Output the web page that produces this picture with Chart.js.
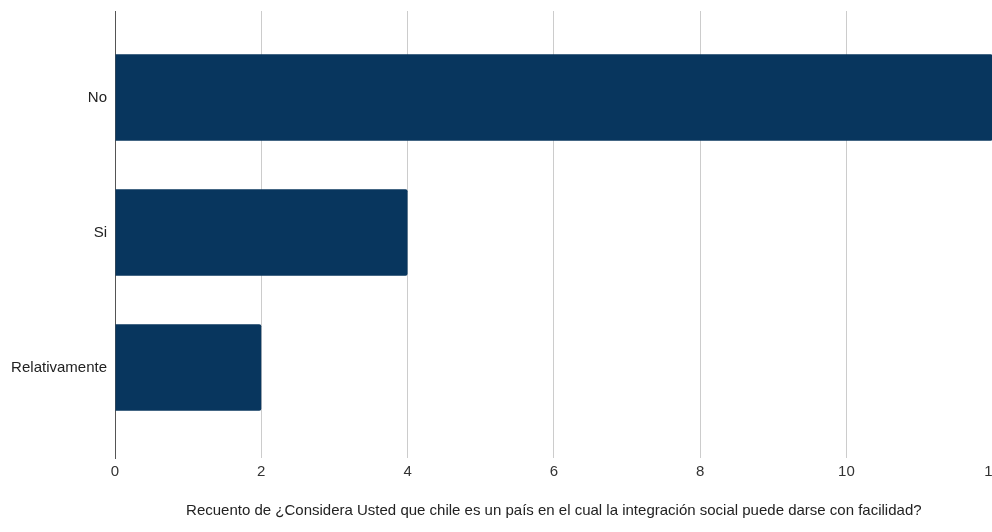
<!DOCTYPE html>
<html>
<head>
<meta charset="utf-8">
<script src="https://cdn.jsdelivr.net/npm/chart.js@4/dist/chart.umd.min.js"></script>
<style>
    html, body { margin: 0; padding: 0; background: #fff; overflow: hidden; }
    #wrap { position: relative; width: 1006px; height: 532px; }
</style>
</head>
<body>
<div id="wrap"><canvas id="chart"></canvas></div>
<script>
// Daten aus der Abbildung
const categories = ['No', 'Si', 'Relativamente'];
const counts = [12, 4, 2];
const xTicks = [0, 2, 4, 6, 8, 10, 12];
const axisTitle = 'Recuento de ¿Considera Usted que chile es un país en el cual la integración social puede darse con facilidad?';

const barColor = '#08365e';
const fontFamily = '"Liberation Sans", Arial, sans-serif';

// Balken als {x, y}-Punkte auf einer linearen Indexachse
const points = counts.map((v, i) => ({ x: v, y: i }));

new Chart(document.getElementById('chart'), {
    type: 'bar',
    data: {
        datasets: [{
            data: points,
            backgroundColor: barColor,
            borderRadius: 2,
            borderSkipped: 'start',
            barPercentage: 0.8,
            categoryPercentage: 0.8
        }]
    },
    options: {
        indexAxis: 'y',
        responsive: true,
        maintainAspectRatio: false,
        animation: false,
        layout: { padding: { top: 11, left: 0, right: 0, bottom: 0 } },
        plugins: {
            legend: { display: false },
            tooltip: { enabled: false }
        },
        scales: {
            x: {
                type: 'linear',
                min: xTicks[0],
                max: xTicks[xTicks.length - 1],
                afterBuildTicks: scale => { scale.ticks = xTicks.map(v => ({ value: v })); },
                grid: { color: '#cccccc', lineWidth: 1, drawTicks: false },
                border: { display: false },
                ticks: { color: '#333', font: { family: fontFamily, size: 15 }, padding: 5 },
                title: {
                    display: true,
                    text: axisTitle,
                    color: '#222',
                    font: { family: fontFamily, size: 15 },
                    padding: { top: 16, bottom: 12 }
                }
            },
            y: {
                type: 'linear',
                reverse: true,
                offset: false,
                min: -0.64,
                max: 2.67,
                afterBuildTicks: scale => { scale.ticks = categories.map((c, i) => ({ value: i })); },
                afterFit: scale => {
                    scale.width = 115;
                    // Labels liegen weit innen, kein Extra-Rand oben/unten nötig
                    scale.paddingTop = 0;
                    scale.paddingBottom = 0;
                },
                grid: { display: false, drawTicks: false },
                border: { display: true, color: '#555', width: 1 },
                ticks: {
                    color: '#222',
                    font: { family: fontFamily, size: 15 },
                    padding: 8,
                    callback: v => categories[v] ?? ''
                }
            }
        }
    }
});
</script>
</body>
</html>
